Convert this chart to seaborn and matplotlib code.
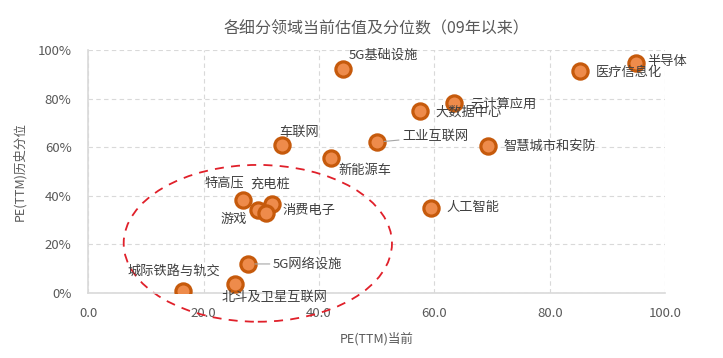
import numpy as np
import pandas as pd
import matplotlib.pyplot as plt
import seaborn as sb
from matplotlib.patches import Ellipse
from matplotlib.ticker import FuncFormatter

# data
sectors = ['5G基础设施', '半导体', '医疗信息化', '云计算应用', '大数据中心', '工业互联网',
           '智慧城市和安防', '车联网', '新能源车', '人工智能', '特高压', '充电桩',
           '游戏', '消费电子', '5G网络设施', '北斗及卫星互联网', '城际铁路与轨交']
pe_now = [44.2, 95.0, 85.3, 63.4, 57.5, 50.1, 69.3, 33.6, 42.1, 59.4, 26.9, 31.9,
          29.5, 30.8, 27.7, 25.5, 16.5]
pe_pct = [92.2, 94.7, 91.4, 78.2, 74.9, 62.1, 60.5, 60.9, 55.6, 35.0, 38.3, 36.6,
          34.2, 32.9, 11.9, 3.7, 0.8]

# label offsets in points (dx, dy), and whether a leader line is drawn
offsets = {
    '5G基础设施': (4, 10), '半导体': (8, 1), '医疗信息化': (11, -1), '云计算应用': (12, -1),
    '大数据中心': (11, -1), '工业互联网': (18, 4), '智慧城市和安防': (11, 0),
    '车联网': (-2, 9), '新能源车': (5, -9), '人工智能': (11, 0), '特高压': (-28, 12),
    '充电桩': (-16, 14), '游戏': (-27, -7), '消费电子': (12, 2),
    '5G网络设施': (18, 0), '北斗及卫星互联网': (-10, -10), '城际铁路与轨交': (-40, 14),
}
leaders = ['工业互联网', '5G网络设施']

df = pd.DataFrame({'sector': sectors, 'pe': pe_now, 'pct': pe_pct})

sb.set_style('white')
plt.rcParams['font.family'] = ['Noto Sans CJK SC', 'DejaVu Sans']

fig, ax = plt.subplots(figsize=(7.23, 3.58), dpi=100)
fig.subplots_adjust(left=0.122, right=0.92, top=0.86, bottom=0.182)

sb.scatterplot(data=df, x='pe', y='pct', ax=ax, s=120, color='#EE8B4B',
               edgecolor='#C65A0C', linewidth=2.3, zorder=3, legend=False)

txt = '#404040'
for name, x, y in zip(sectors, pe_now, pe_pct):
    dx, dy = offsets[name]
    if name in leaders:
        ax.annotate(name, (x, y), xytext=(dx, dy), textcoords='offset points',
                    fontsize=9.5, color=txt, va='center', ha='left',
                    arrowprops=dict(arrowstyle='-', color='#A6A6A6', lw=0.8,
                                    shrinkA=0, shrinkB=5))
    else:
        ax.annotate(name, (x, y), xytext=(dx, dy), textcoords='offset points',
                    fontsize=9.5, color=txt, va='center', ha='left')

# dashed circle around the low-percentile cluster
ell = Ellipse((29.4, 20.4), 46.5, 64.6, fill=False, ls=(0, (5, 4)), lw=1.3,
              edgecolor='#E0202A', clip_on=False, zorder=2)
ax.add_patch(ell)

ax.set_xlim(0, 100)
ax.set_ylim(0, 100)
ax.set_xticks(np.arange(0, 101, 20))
ax.set_yticks(np.arange(0, 101, 20))
ax.xaxis.set_major_formatter(FuncFormatter(lambda v, p: f'{v:.1f}'))
ax.yaxis.set_major_formatter(FuncFormatter(lambda v, p: f'{v:.0f}%'))
ax.tick_params(axis='both', length=0, labelsize=9.5, labelcolor='#595959')
ax.tick_params(axis='x', pad=10)
ax.tick_params(axis='y', pad=12)

ax.grid(True, ls=(0, (4, 3)), color='#D9D9D9', lw=0.8)
ax.set_axisbelow(True)
for s in ['top', 'right']:
    ax.spines[s].set_visible(False)
for s in ['left', 'bottom']:
    ax.spines[s].set_color('#D9D9D9')
    ax.spines[s].set_linewidth(1.2)

ax.set_xlabel('PE(TTM)当前', fontsize=9, color='#595959', labelpad=9)
ax.set_ylabel('PE(TTM)历史分位', fontsize=9, color='#595959', labelpad=8)
ax.set_title('各细分领域当前估值及分位数（09年以来）', fontsize=11.5, color='#595959', pad=12)

plt.savefig('out.png', dpi=100)
